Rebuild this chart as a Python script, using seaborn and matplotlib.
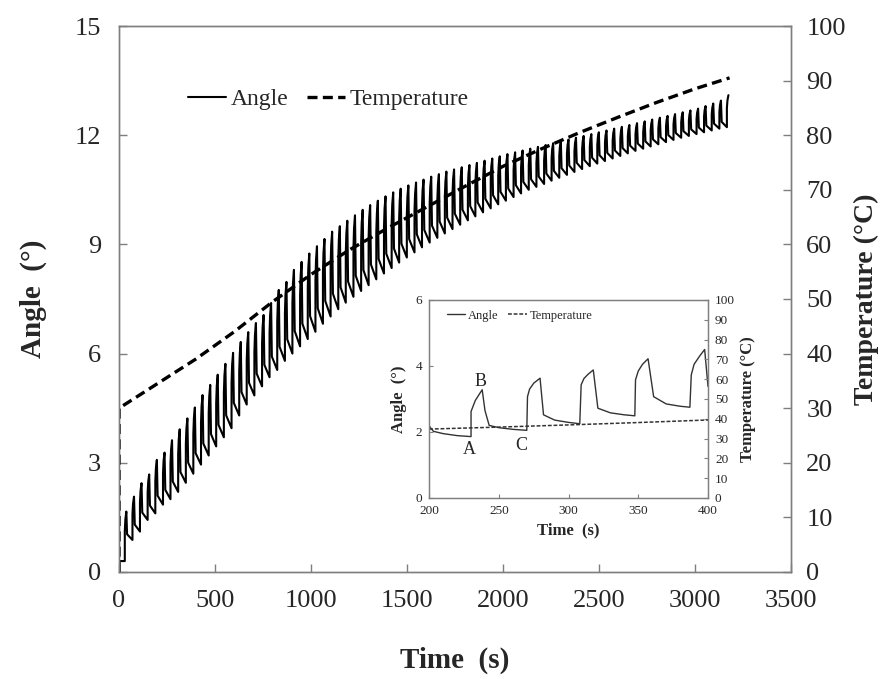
import numpy as np
import pandas as pd
import seaborn as sns
import matplotlib.pyplot as plt

sns.set_style("ticks")
plt.rcParams['font.family'] = ['Liberation Serif', 'DejaVu Sans']

# main chart: one heating pulse per cycle
jump_time = [30, 70, 109, 149, 189, 229, 268, 308, 348, 387,
             427, 467, 506, 546, 586, 626, 665, 705, 745, 784,
             824, 864, 903, 943, 983, 1023, 1062, 1102, 1142, 1181,
             1221, 1261, 1300, 1340, 1380, 1420, 1459, 1499, 1539, 1578,
             1618, 1658, 1697, 1737, 1777, 1817, 1856, 1896, 1936, 1975,
             2015, 2055, 2094, 2134, 2174, 2214, 2253, 2293, 2333, 2372,
             2412, 2452, 2491, 2531, 2571, 2611, 2650, 2690, 2730, 2769,
             2809, 2849, 2888, 2928, 2968, 3008, 3047, 3087, 3127, 3166]
trough = [0.30, 0.88, 1.11, 1.43, 1.61, 1.85, 2.00, 2.20, 2.45, 2.70,
          2.95, 3.20, 3.45, 3.70, 3.95, 4.30, 4.60, 4.85, 5.10, 5.35,
          5.55, 5.80, 6.00, 6.20, 6.40, 6.60, 6.82, 7.02, 7.22, 7.40,
          7.56, 7.72, 7.88, 8.04, 8.20, 8.35, 8.50, 8.64, 8.78, 8.92,
          9.05, 9.18, 9.30, 9.42, 9.54, 9.66, 9.77, 9.88, 9.99, 10.10,
          10.20, 10.30, 10.40, 10.50, 10.58, 10.66, 10.75, 10.83, 10.91, 10.99,
          11.07, 11.15, 11.22, 11.29, 11.36, 11.43, 11.50, 11.57, 11.63, 11.69,
          11.75, 11.81, 11.87, 11.93, 11.98, 12.03, 12.08, 12.13, 12.18, 12.22]
peak = [1.66, 2.07, 2.44, 2.68, 3.08, 3.28, 3.62, 3.92, 4.22, 4.52,
        4.86, 5.14, 5.42, 5.72, 6.02, 6.32, 6.59, 6.84, 7.06, 7.39,
        7.75, 7.97, 8.30, 8.52, 8.75, 8.95, 9.15, 9.35, 9.50, 9.65,
        9.80, 9.95, 10.08, 10.20, 10.32, 10.43, 10.53, 10.62, 10.70, 10.78,
        10.86, 10.93, 11.00, 11.06, 11.12, 11.18, 11.24, 11.30, 11.36, 11.42,
        11.48, 11.53, 11.58, 11.63, 11.68, 11.73, 11.78, 11.83, 11.88, 11.93,
        11.98, 12.03, 12.08, 12.13, 12.18, 12.23, 12.28, 12.33, 12.38, 12.43,
        12.48, 12.53, 12.58, 12.63, 12.68, 12.73, 12.80, 12.87, 12.95, 13.10]

temp_time = [0, 0, 200, 400, 600, 800, 1000, 1200, 1400, 1600, 1800,
             2000, 2200, 2400, 2600, 2800, 3000, 3180]
temp_value = [0, 30, 34.5, 39, 44, 49.5, 54.5, 59, 63, 66.8, 70.6,
              74.3, 77.5, 80.5, 83.3, 86, 88.5, 90.5]

# inset (200-400 s)
inset_time = [200, 203, 210, 220, 230, 230, 233, 236, 238, 240, 243, 250, 260, 270,
              270.5, 272, 275, 279.5, 282, 290, 300, 308,
              309, 311, 314, 317.7, 321, 330, 340, 347.5,
              348, 350, 353, 357, 361, 370, 380, 387,
              388, 390, 394, 397.6, 400]
inset_angle = [2.18, 2.02, 1.95, 1.89, 1.86, 2.62, 2.95, 3.15, 3.28, 2.65, 2.20, 2.13, 2.08, 2.05,
               3.07, 3.30, 3.48, 3.63, 2.52, 2.36, 2.29, 2.25,
               3.43, 3.62, 3.75, 3.88, 2.72, 2.58, 2.52, 2.49,
               3.58, 3.85, 4.05, 4.22, 3.07, 2.85, 2.78, 2.75,
               3.73, 4.05, 4.30, 4.50, 3.38]
inset_temp_time = [200, 250, 300, 350, 400]
inset_temp = [34.8, 35.8, 36.9, 38.1, 39.4]
point_names = ['A', 'B', 'C']
point_time = [229, 236.5, 266]
point_angle = [1.46, 3.53, 1.6]

# build the saw-tooth line from the troughs and peaks
t = [0, 0]
a = [0, trough[0]]
for k in range(len(jump_time)):
    t0, lo, hi = jump_time[k], trough[k], peak[k]
    mid = lo + 0.6 * (hi - lo)
    t += [t0, t0, t0 + 3, t0 + 8]
    a += [lo, mid, mid + 0.6 * (hi - mid), hi]
    if k + 1 < len(jump_time):
        nxt = trough[k + 1]
        t.append(t0 + 12)
        a.append(nxt + 0.2 * (hi - nxt))
angle = pd.DataFrame({'time': t, 'angle': a})
temp = pd.DataFrame({'time': temp_time, 'temp': temp_value})

spine_col = '#7f7f7f'

fig = plt.figure(figsize=(8.85, 6.79), dpi=100)
ax = fig.add_axes([0.1345, 0.1576, 0.7593, 0.8041])
sns.lineplot(data=angle, x='time', y='angle', ax=ax, color='black', lw=1.5,
             sort=False, estimator=None, label='Angle')
ax.set_xlim(0, 3500)
ax.set_ylim(0, 15)
ax.set_xticks(range(0, 3501, 500))
ax.set_yticks(range(0, 16, 3))

ax2 = ax.twinx()
sns.lineplot(data=temp, x='time', y='temp', ax=ax2, color='black', lw=2.4,
             linestyle=(0, (3, 1.6)), sort=False, estimator=None, label='Temperature')
ax2.set_ylim(0, 100)
ax2.set_yticks(range(0, 101, 10))

for a_ in (ax, ax2):
    for s in a_.spines.values():
        s.set_visible(True)
        s.set_color(spine_col)
        s.set_linewidth(1.0)
    a_.tick_params(direction='in', length=6, width=1, color=spine_col,
                   labelsize=19, pad=13)
ax2.tick_params(axis='y', pad=11)

ax.set_xlabel('Time  (s)', fontsize=21, fontweight='bold', labelpad=25)
ax.set_ylabel('Angle  (°)', fontsize=21, fontweight='bold', labelpad=20)
ax2.set_ylabel('Temperature (°C)', fontsize=20, fontweight='bold', labelpad=6)

h1, l1 = ax.get_legend_handles_labels()
h2, l2 = ax2.get_legend_handles_labels()
ax2.get_legend().remove()
ax.legend(h1 + h2, l1 + l2, loc='center left', bbox_to_anchor=(0.085, 0.865),
          ncol=2, frameon=False, fontsize=17, handlelength=1.6,
          handletextpad=0.2, columnspacing=0.8, borderpad=0)

# inset
ins = fig.add_axes([0.485, 0.2666, 0.315, 0.2916])
sns.lineplot(x=inset_time, y=inset_angle, ax=ins, color='#333333', lw=1.0,
             sort=False, estimator=None, label='Angle')
ins.set_xlim(200, 400)
ins.set_ylim(0, 6)
ins.set_xticks(range(200, 401, 50))
ins.set_yticks(range(0, 7, 2))
ins2 = ins.twinx()
sns.lineplot(x=inset_temp_time, y=inset_temp, ax=ins2, color='#333333', lw=1.1,
             linestyle=(0, (2.5, 1.2)), sort=False, estimator=None, label='Temperature')
ins2.set_ylim(0, 100)
ins2.set_yticks(range(0, 101, 10))
for a_ in (ins, ins2):
    for s in a_.spines.values():
        s.set_visible(True)
        s.set_color(spine_col)
        s.set_linewidth(0.9)
    a_.tick_params(direction='in', length=3, width=0.8, color=spine_col,
                   labelsize=9.5, pad=5)
ins.set_xlabel('Time  (s)', fontsize=12, fontweight='bold', labelpad=4)
ins.set_ylabel('Angle  (°)', fontsize=12, fontweight='bold', labelpad=6)
ins2.set_ylabel('Temperature (°C)', fontsize=12, fontweight='bold', labelpad=4)
for name, px, py in zip(point_names, point_time, point_angle):
    ins.text(px, py, name, fontsize=13, ha='center', va='center')

g1, m1 = ins.get_legend_handles_labels()
g2, m2 = ins2.get_legend_handles_labels()
ins2.get_legend().remove()
ins.legend(g1 + g2, m1 + m2, loc='center left', bbox_to_anchor=(0.04, 0.92),
           ncol=2, frameon=False, fontsize=9, handlelength=1.5,
           handletextpad=0.2, columnspacing=0.8, borderpad=0)

fig.savefig('out.png', dpi=100)
